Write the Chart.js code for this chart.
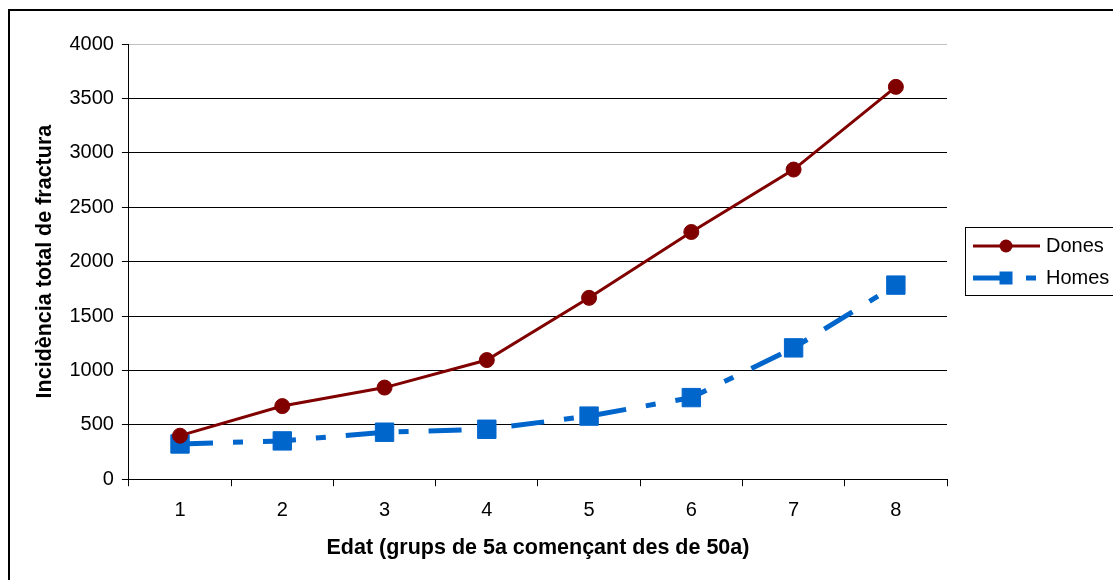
<!DOCTYPE html>
<html>
<head>
<meta charset="utf-8">
<script src="https://cdn.jsdelivr.net/npm/chart.js@4"></script>
<style>
  html, body { margin: 0; padding: 0; background: #fff; overflow: hidden; }
  #wrap { position: relative; width: 1113px; height: 580px; }
  #frame { position: absolute; left: 8px; top: 9px; width: 1200px; height: 700px; border: 2px solid #000; }
  canvas { position: absolute; left: 0; top: 0; }
</style>
</head>
<body>
<div id="wrap">
  <div id="frame"></div>
  <canvas id="gp" width="1113" height="580"></canvas>
</div>
<script>
const ctx = document.getElementById("gp");

const edat = ["1","2","3","4","5","6","7","8"];
const dones = [400, 672, 842, 1095, 1667, 2272, 2846, 3606];
const homes = [324, 352, 432, 459, 580, 750, 1207, 1784];
const yTicks = [0, 500, 1000, 1500, 2000, 2500, 3000, 3500, 4000];

const FONT = "'Liberation Sans', Arial, sans-serif";
Chart.defaults.font.family = FONT;
Chart.defaults.font.size = 20;
Chart.defaults.color = "#000";

// llegenda dibuixada a mà (línia + marcador, amb marc)
const llegenda = {
    id: "llegenda",
    afterDraw(chart) {
        const c = chart.ctx;
        c.save();
        c.strokeStyle = "#000";
        c.lineWidth = 1;
        c.strokeRect(965.5, 227.5, 160, 68);
        const rows = [246, 278];
        chart.data.datasets.forEach((ds, i) => {
            const y = rows[i];
            c.strokeStyle = ds.borderColor;
            c.lineWidth = ds.borderWidth;
            c.lineCap = "butt";
            c.setLineDash(ds.borderDash || []);
            c.beginPath();
            c.moveTo(973, y);
            c.lineTo(1040, y);
            c.stroke();
            c.setLineDash([]);
            c.fillStyle = ds.pointBackgroundColor;
            if (ds.pointStyle === "rect") {
                c.fillRect(999.5, y - 6.5, 13, 13);
            } else {
                c.beginPath();
                c.arc(1006, y, 6.5, 0, Math.PI * 2);
                c.fill();
            }
            c.fillStyle = "#000";
            c.font = "20px " + FONT;
            c.textBaseline = "middle";
            c.fillText(ds.label, 1046, y);
        });
        c.restore();
    }
};

const chartData = {
    labels: edat,
    datasets: [
        {
            label: "Dones",
            data: dones,
            borderColor: "#800000",
            backgroundColor: "#800000",
            pointBackgroundColor: "#800000",
            pointBorderColor: "#800000",
            borderWidth: 3,
            pointStyle: "circle",
            pointRadius: 7.5,
            pointBorderWidth: 1,
            tension: 0,
        },
        {
            label: "Homes",
            data: homes,
            borderColor: "#0066CC",
            backgroundColor: "#0066CC",
            pointBackgroundColor: "#0066CC",
            pointBorderColor: "#0066CC",
            borderWidth: 5,
            borderDash: [33, 20, 10, 20],
            borderCapStyle: "butt",
            pointStyle: "rect",
            pointRadius: 13,
            pointBorderWidth: 1,
            tension: 0,
        },
    ],
};

const chartOptions = {
    responsive: false,
    animation: false,
    layout: { padding: { top: 44, right: 166, bottom: 0, left: 0 } },
    plugins: {
        legend: { display: false },
        tooltip: { enabled: false },
    },
    scales: {
        x: {
            offset: true,
            grid: { offset: true, drawOnChartArea: false, color: "#000", tickColor: "#000", tickLength: 7 },
            border: { color: "#000", width: 1 },
            ticks: { padding: 12, font: { size: 20 } },
            title: {
                display: true,
                text: "Edat (grups de 5a començant des de 50a)",
                font: { size: 21.5, weight: "bold" },
                padding: { top: 1, bottom: 19 },
            },
        },
        y: {
            min: 0,
            max: 4000,
            afterBuildTicks: (s) => { s.ticks = yTicks.map(v => ({ value: v })); },
            grid: {
                color: (c) => (c.tick && c.tick.value === 4000 ? "#c0c0c0" : "#000"),
                tickColor: "#000",
                tickLength: 7,
            },
            border: { color: "#000", width: 1 },
            ticks: { padding: 8, font: { size: 20 }, callback: (v) => String(v) },
            title: {
                display: true,
                text: "Incidència total de fractura",
                font: { size: 21.5, weight: "bold" },
                padding: { top: 32.6, bottom: 3 },
            },
        },
    },
};

new Chart(ctx, {
    type: "line",
    data: chartData,
    options: chartOptions,
    plugins: [llegenda],
});
</script>
</body>
</html>
